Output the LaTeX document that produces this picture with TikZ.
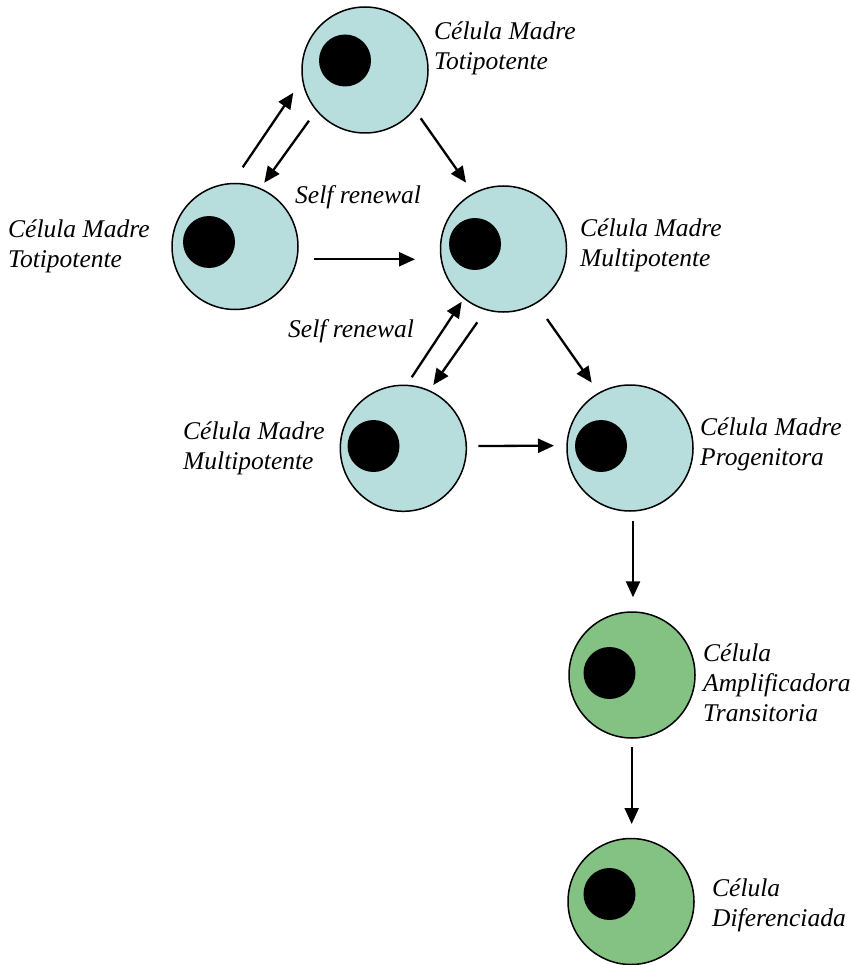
\documentclass[tikz,border=0pt]{standalone}
\usepackage{fontspec}
\setmainfont{Liberation Serif}
\usetikzlibrary{arrows.meta}
\definecolor{cellblue}{RGB}{183,221,221}
\definecolor{cellgreen}{RGB}{132,194,132}
\begin{document}
\begin{tikzpicture}[x=1pt,y=-1pt,
  cell/.style={circle,draw=black,line width=1.5pt,minimum size=126pt,inner sep=0pt},
  bluecell/.style={cell,fill=cellblue},
  greencell/.style={cell,fill=cellgreen},
  nuc/.style={circle,fill=black,minimum size=52pt,inner sep=0pt},
  arr/.style={line width=2.3pt,-{Triangle[length=16pt,width=14pt]}},
  lbl/.style={anchor=base west,align=left,inner sep=0pt,font=\fontsize{25.5}{30}\selectfont\itshape}]
\useasboundingbox (0,0) rectangle (850,965);
% cells
\node[bluecell] (T) at (365,70) {};
\node[nuc] (Tn) at (345,60.5) {};
\node[bluecell] (L) at (235,246.5) {};
\node[nuc] (Ln) at (209,242) {};
\node[bluecell] (M) at (503.5,249) {};
\node[nuc] (Mn) at (475,244) {};
\node[bluecell] (LL) at (403.3,448.3) {};
\node[nuc] (LLn) at (373.5,446) {};
\node[bluecell] (P) at (630,448) {};
\node[nuc] (Pn) at (601,446) {};
\node[greencell] (G1) at (632,675) {};
\node[nuc] (G1n) at (609.5,673) {};
\node[greencell] (G2) at (631,901.5) {};
\node[nuc] (G2n) at (609.5,894) {};
% labels (base = baseline of last line)
\node[lbl] (tT) at (434,70) {Célula Madre\\Totipotente};
\node[lbl] (tL) at (8,268) {Célula Madre\\Totipotente};
\node[lbl] (tM) at (580,267) {Célula Madre\\Multipotente};
\node[lbl] (tLL) at (183,469) {Célula Madre\\Multipotente};
\node[lbl] (tP) at (700,465) {Célula Madre\\Progenitora};
\node[lbl] (tG1) at (703,721) {Célula\\Amplificadora\\Transitoria};
\node[lbl] (tG2) at (712,926) {Célula\\Diferenciada};
\node[lbl] (sr1) at (295,204) {Self renewal};
\node[lbl] (sr2) at (288,337) {Self renewal};
% arrows
\draw[arr] ([shift={(7.7,-79.2)}]L.center) -- ([shift={(-71.7,22.7)}]T.center);
\draw[arr] ([shift={(-56,50.7)}]T.center) -- ([shift={(29.3,-63.8)}]L.center);
\draw[arr] ([shift={(55.7,48.3)}]T.center) -- ([shift={(-37.5,-66.3)}]M.center);
\draw[arr] ([shift={(79,12.8)}]L.center) -- ([shift={(-88.5,10.3)}]M.center);
\draw[arr] ([shift={(8.4,-71)}]LL.center) -- ([shift={(-41.8,52.7)}]M.center);
\draw[arr] ([shift={(-26.2,73.3)}]M.center) -- ([shift={(30,-63.3)}]LL.center);
\draw[arr] ([shift={(43.5,70)}]M.center) -- ([shift={(-38.3,-65.3)}]P.center);
\draw[arr] ([shift={(75,-2.3)}]LL.center) -- ([shift={(-76,-2.3)}]P.center);
\draw[arr] ([shift={(3,72.7)}]P.center) -- ([shift={(1,-77.7)}]G1.center);
\draw[arr] ([shift={(-0.3,72.3)}]G1.center) -- ([shift={(0.7,-77.5)}]G2.center);
\end{tikzpicture}
\end{document}
